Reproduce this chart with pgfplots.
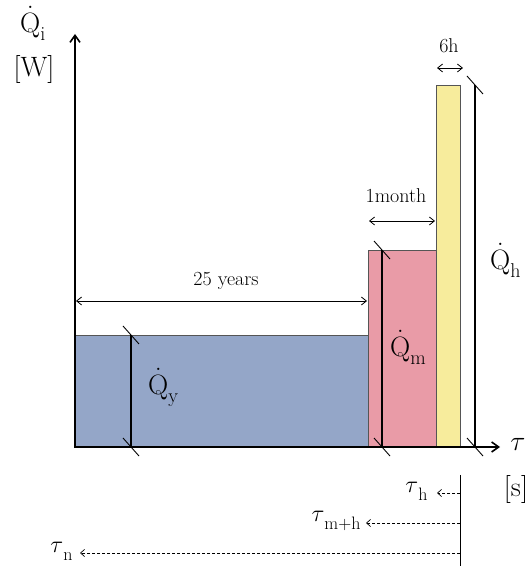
\RequirePackage{fix-cm}
\documentclass[border=0pt]{standalone}
\usepackage{pgfplots}
\pgfplotsset{compat=1.18}
\usetikzlibrary{arrows.meta}
\definecolor{cblue}{HTML}{94A6C8}
\definecolor{cpink}{HTML}{E99BA7}
\definecolor{cyel}{HTML}{F7EC9C}
\definecolor{cedge}{HTML}{555555}
\newcommand{\Qd}[1]{\ooalign{Q\cr\hidewidth\smash{\raisebox{0.86em}{.}}\hidewidth\cr}\raisebox{-0.28em}{\fontsize{20}{20}\selectfont #1}}
\newcommand{\Tau}[1]{\raisebox{0.1em}{$\tau$}\raisebox{-0.22em}{\fontsize{18}{18}\selectfont #1}}
\begin{document}
\begin{tikzpicture}
\begin{axis}[
  scale only axis, width=528pt, height=566pt,
  xmin=0, xmax=528, ymin=0, ymax=566,
  axis lines=none, clip=false,
]
% bars in picture units (origin of the schematic at x=75, y=119)
\addplot[fill=cblue, draw=cedge, line width=0.6pt] coordinates {(75,119) (75,231) (368,231) (368,119)} -- cycle;
\addplot[fill=cpink, draw=cedge, line width=0.6pt] coordinates {(368,119) (368,316) (436,316) (436,119)} -- cycle;
\addplot[fill=cyel, draw=cedge, line width=0.6pt] coordinates {(436,119) (436,481) (460,481) (460,119)} -- cycle;
% axes
\draw[line width=1.6pt, -{Straight Barb[length=7pt,width=10pt]}] (axis cs:75,119) -- (axis cs:75,532);
\draw[line width=1.6pt, -{Straight Barb[length=7pt,width=10pt]}] (axis cs:74,119) -- (axis cs:500,119);
% dimension lines
\draw[line width=1.1pt] (axis cs:131,119) -- (axis cs:131,231);
\draw[line width=0.9pt] (axis cs:123,240) -- (axis cs:139,222);
\draw[line width=0.9pt] (axis cs:123,128) -- (axis cs:139,110);
\draw[line width=1.1pt] (axis cs:382,119) -- (axis cs:382,316);
\draw[line width=0.9pt] (axis cs:374,325) -- (axis cs:390,307);
\draw[line width=0.9pt] (axis cs:374,128) -- (axis cs:390,110);
\draw[line width=1.1pt] (axis cs:475,119) -- (axis cs:475,481);
\draw[line width=0.9pt] (axis cs:467,490) -- (axis cs:483,472);
\draw[line width=0.9pt] (axis cs:467,128) -- (axis cs:483,110);
% horizontal dimension arrows
\draw[line width=0.8pt, {Straight Barb[length=5pt,width=8pt]}-{Straight Barb[length=5pt,width=8pt]}] (axis cs:76,265) -- (axis cs:367,265);
\draw[line width=0.8pt, {Straight Barb[length=5pt,width=8pt]}-{Straight Barb[length=5pt,width=8pt]}] (axis cs:369,345) -- (axis cs:435,345);
\draw[line width=0.8pt, {Straight Barb[length=5pt,width=8pt]}-{Straight Barb[length=5pt,width=8pt]}] (axis cs:437,498) -- (axis cs:463,498);
\node[font=\fontsize{20}{22}\selectfont] at (axis cs:226,285) {25 years};
\node[font=\fontsize{20}{22}\selectfont] at (axis cs:396,370) {1month};
\node[font=\fontsize{20}{22}\selectfont] at (axis cs:449,520) {6h};
% labels
\node[font=\fontsize{28}{30}\selectfont, anchor=base west, inner sep=0pt] at (axis cs:20,533) {\Qd{i}};
\node[font=\fontsize{28}{30}\selectfont] at (axis cs:34,496) {[W]};
\node[font=\fontsize{28}{30}\selectfont] at (axis cs:518,122) {$\tau$};
\node[font=\fontsize{28}{30}\selectfont] at (axis cs:516,76) {[s]};
\node[font=\fontsize{28}{30}\selectfont, anchor=base west, inner sep=0pt] at (axis cs:148,171) {\Qd{y}};
\node[font=\fontsize{28}{30}\selectfont, anchor=base west, inner sep=0pt] at (axis cs:390,209) {\Qd{m}};
\node[font=\fontsize{28}{30}\selectfont, anchor=base west, inner sep=0pt] at (axis cs:490,296) {\Qd{h}};
% bottom time arrows
\draw[line width=1pt] (axis cs:460,91) -- (axis cs:460,0);
\draw[line width=0.7pt, dash pattern=on 3pt off 2pt, -{Straight Barb[length=4pt,width=7pt]}] (axis cs:460,73) -- (axis cs:437,73);
\draw[line width=0.7pt, dash pattern=on 3pt off 2pt, -{Straight Barb[length=4pt,width=7pt]}] (axis cs:460,43) -- (axis cs:366,43);
\draw[line width=0.7pt, dash pattern=on 3pt off 2pt, -{Straight Barb[length=4pt,width=7pt]}] (axis cs:460,13) -- (axis cs:80,13);
\node[font=\fontsize{24}{26}\selectfont, anchor=east] at (axis cs:431,75) {\Tau{h}};
\node[font=\fontsize{24}{26}\selectfont, anchor=east] at (axis cs:364,45) {\Tau{m+h}};
\node[font=\fontsize{24}{26}\selectfont, anchor=east] at (axis cs:76,15) {\Tau{n}};
\end{axis}
\pgfresetboundingbox
\path[use as bounding box] (current axis.south west) rectangle (current axis.north east);
\end{tikzpicture}
\end{document}
